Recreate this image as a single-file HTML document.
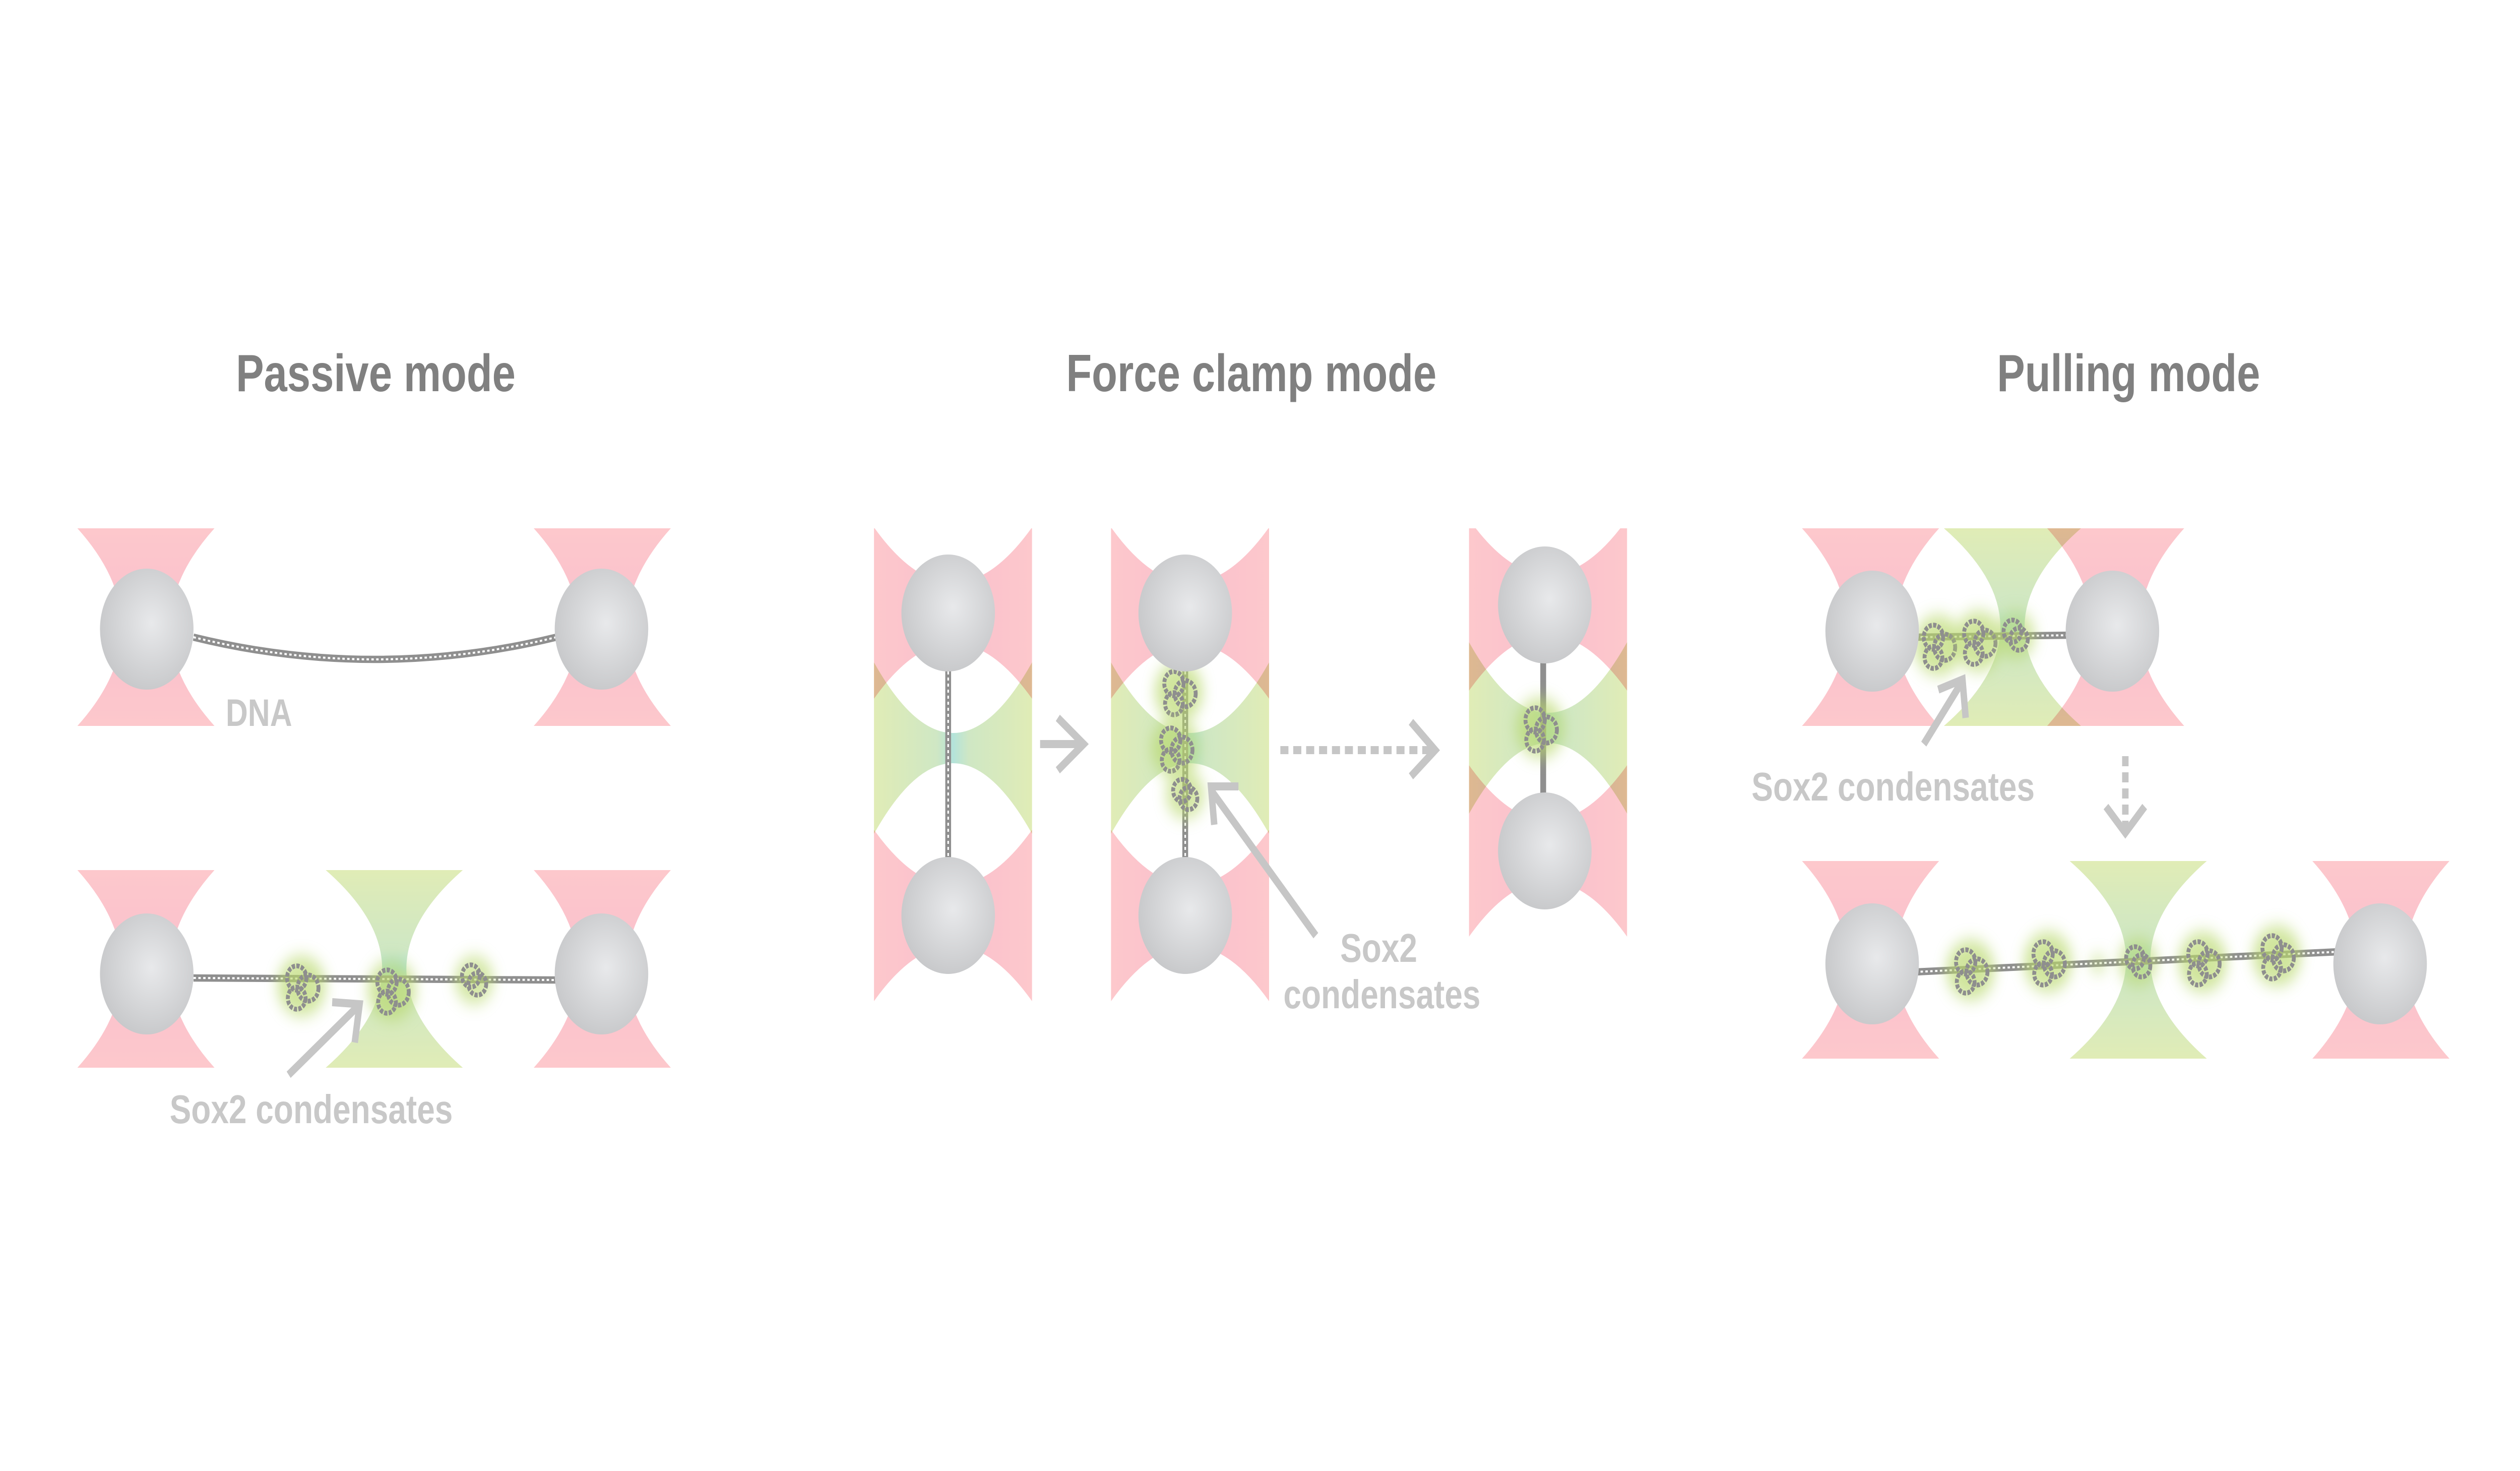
<!DOCTYPE html>
<html><head><meta charset="utf-8"><style>
html,body{margin:0;padding:0;background:#fff;width:100vw;height:100vh;overflow:hidden;}
svg{display:block;width:100vw;height:100vh;overflow:hidden}
text{font-family:"Liberation Sans",Arial,sans-serif;font-weight:bold}
</style></head><body>
<svg viewBox="0 0 1562.75 729.5" preserveAspectRatio="none" xmlns="http://www.w3.org/2000/svg">
<defs>
<linearGradient id="pk" x1="0" y1="0" x2="0" y2="1">
<stop offset="0" stop-color="#fdc8cc"/><stop offset="0.5" stop-color="#f9bfcd"/><stop offset="1" stop-color="#fdc8cc"/></linearGradient>
<linearGradient id="gr" x1="0" y1="0" x2="0" y2="1">
<stop offset="0" stop-color="#e0ecb6"/><stop offset="0.4" stop-color="#cfe7c4"/><stop offset="0.5" stop-color="#b4e3da"/><stop offset="0.6" stop-color="#cfe7c4"/><stop offset="1" stop-color="#e0ecb6"/></linearGradient>
<radialGradient id="bd" cx="0.55" cy="0.45" r="0.6">
<stop offset="0" stop-color="#e8e9eb"/><stop offset="1" stop-color="#c6c7c9"/></radialGradient>
<filter id="bl" x="-1" y="-1" width="3" height="3"><feGaussianBlur stdDeviation="4"/></filter>
<path id="pH" d="M-42.5,-49 L42.5,-49 Q-12.5,0 42.5,49 L-42.5,49 Q12.5,0 -42.5,-49Z" fill="url(#pk)"/>
<path id="gH" d="M-42.5,-49 L42.5,-49 Q-27.5,0 42.5,49 L-42.5,49 Q27.5,0 -42.5,-49Z" fill="url(#gr)"/>
<g id="cond">
<circle r="15" fill="#b8d86a" opacity="0.65" filter="url(#bl)"/>
<g fill="none" stroke="#8e8e8e" stroke-width="2.4" stroke-dasharray="2 0.8">
<circle cx="-3" cy="-4" r="6"/><circle cx="4" cy="1" r="6.5"/><circle cx="-3" cy="6" r="5.5"/>
</g></g>
<g id="condS">
<circle r="12" fill="#b8d86a" opacity="0.6" filter="url(#bl)"/>
<g fill="none" stroke="#8e8e8e" stroke-width="2.4" stroke-dasharray="2 0.8">
<circle cx="-2" cy="-2" r="5.5"/><circle cx="2" cy="2" r="5.5"/>
</g></g>
<clipPath id="c1"><rect x="541" y="262" width="100" height="235"/></clipPath>
<clipPath id="c2"><rect x="688" y="262" width="100" height="235"/></clipPath>
<clipPath id="c3"><rect x="910" y="262" width="100" height="203"/></clipPath>
</defs>

<g fill="#808080" font-size="26" text-anchor="middle">
<text x="233" y="194">Passive mode</text>
<text x="776" y="194">Force clamp mode</text>
<text x="1320" y="194">Pulling mode</text>
</g>

<!-- PASSIVE -->
<use href="#pH" transform="translate(90.5,311)"/>
<use href="#pH" transform="translate(373.5,311)"/>
<path d="M120,316 Q232,338 345,316" fill="none" stroke="#8f8f8f" stroke-width="3.6"/>
<path d="M120,316 Q232,338 345,316" fill="none" stroke="#fff" stroke-width="1" stroke-dasharray="1.5 1.5"/>
<ellipse cx="91" cy="312" rx="29" ry="30" fill="url(#bd)"/>
<ellipse cx="373" cy="312" rx="29" ry="30" fill="url(#bd)"/>
<text x="140" y="360" font-size="19" fill="#c8c8c8">DNA</text>

<use href="#pH" transform="translate(90.5,480.5)"/>
<use href="#gH" transform="translate(244.5,480.5)"/>
<use href="#pH" transform="translate(373.5,480.5)"/>
<line x1="120" y1="485" x2="345" y2="486" stroke="#8f8f8f" stroke-width="3.6"/>
<line x1="120" y1="485" x2="345" y2="486" stroke="#fff" stroke-width="1" stroke-dasharray="1.5 1.5"/>
<use href="#cond" transform="translate(187,489)"/>
<use href="#cond" transform="translate(243,491)"/>
<use href="#condS" transform="translate(294,486)"/>
<ellipse cx="91" cy="483" rx="29" ry="30" fill="url(#bd)"/>
<ellipse cx="373" cy="483" rx="29" ry="30" fill="url(#bd)"/>
<g stroke="#c6c6c6" stroke-width="4" fill="none"><line x1="179" y1="533" x2="222" y2="499"/><polyline points="206,497 223,498 220,517"/></g>
<text x="193" y="557" font-size="20" fill="#c8c8c8" text-anchor="middle">Sox2 condensates</text>

<!-- FORCE CLAMP panel 1 -->
<g clip-path="url(#c1)" style="isolation:isolate">
<g style="mix-blend-mode:multiply"><use href="#pH" transform="translate(591,304) rotate(90)"/></g>
<g style="mix-blend-mode:multiply"><use href="#gH" transform="translate(591,371) rotate(90)"/></g>
<g style="mix-blend-mode:multiply"><use href="#pH" transform="translate(591,454) rotate(90)"/></g>
</g>
<line x1="588" y1="330" x2="588" y2="430" stroke="#8f8f8f" stroke-width="3.6"/>
<line x1="588" y1="330" x2="588" y2="430" stroke="#fff" stroke-width="1" stroke-dasharray="1.5 1.5"/>
<ellipse cx="588" cy="304" rx="29" ry="29" fill="url(#bd)"/>
<ellipse cx="588" cy="454" rx="29" ry="29" fill="url(#bd)"/>
<g stroke="#c6c6c6" stroke-width="4" fill="none"><line x1="645" y1="369" x2="671" y2="369"/><polyline points="656,356 672,369 656,382"/></g>

<!-- panel 2 -->
<g clip-path="url(#c2)" style="isolation:isolate">
<g style="mix-blend-mode:multiply"><use href="#pH" transform="translate(738,304) rotate(90)"/></g>
<g style="mix-blend-mode:multiply"><use href="#gH" transform="translate(738,371) rotate(90)"/></g>
<g style="mix-blend-mode:multiply"><use href="#pH" transform="translate(738,454) rotate(90)"/></g>
</g>
<line x1="735" y1="330" x2="735" y2="430" stroke="#8f8f8f" stroke-width="3.6"/>
<line x1="735" y1="330" x2="735" y2="430" stroke="#fff" stroke-width="1" stroke-dasharray="1.5 1.5"/>
<use href="#cond" transform="translate(731,343)"/>
<use href="#cond" transform="translate(729,371)"/>
<use href="#condS" transform="translate(735,394)"/>
<ellipse cx="735" cy="304" rx="29" ry="29" fill="url(#bd)"/>
<ellipse cx="735" cy="454" rx="29" ry="29" fill="url(#bd)"/>
<g stroke="#c6c6c6" stroke-width="4" fill="none"><line x1="816" y1="464" x2="752" y2="393"/><polyline points="768,390 751,390 753,409"/></g>
<text x="855" y="477" font-size="20" fill="#c8c8c8" text-anchor="middle">Sox2</text>
<text x="857" y="500" font-size="20" fill="#c8c8c8" text-anchor="middle">condensates</text>
<g stroke="#c6c6c6" stroke-width="4" fill="none"><line x1="794" y1="372" x2="888" y2="372" stroke-dasharray="5 3"/><polyline points="875,358 890,372 875,385"/></g>

<!-- panel 3 -->
<g clip-path="url(#c3)" style="isolation:isolate">
<g style="mix-blend-mode:multiply"><use href="#pH" transform="translate(960,300) rotate(90)"/></g>
<g style="mix-blend-mode:multiply"><use href="#gH" transform="translate(960,361) rotate(90)"/></g>
<g style="mix-blend-mode:multiply"><use href="#pH" transform="translate(960,422) rotate(90)"/></g>
</g>
<line x1="957" y1="325" x2="957" y2="400" stroke="#8f8f8f" stroke-width="3.6"/>
<use href="#cond" transform="translate(955,361)"/>
<ellipse cx="958" cy="300" rx="29" ry="29" fill="url(#bd)"/>
<ellipse cx="958" cy="422" rx="29" ry="29" fill="url(#bd)"/>

<!-- PULLING top -->
<g style="isolation:isolate">
<g style="mix-blend-mode:multiply"><use href="#pH" transform="translate(1160,311)"/></g>
<g style="mix-blend-mode:multiply"><use href="#gH" transform="translate(1248,311)"/></g>
<g style="mix-blend-mode:multiply"><use href="#pH" transform="translate(1312,311)"/></g>
</g>
<line x1="1188" y1="316" x2="1284" y2="315" stroke="#8f8f8f" stroke-width="3.6"/>
<line x1="1188" y1="316" x2="1284" y2="315" stroke="#fff" stroke-width="1" stroke-dasharray="1.5 1.5"/>
<use href="#cond" transform="translate(1202,320)"/>
<use href="#cond" transform="translate(1227,318)"/>
<use href="#condS" transform="translate(1250,315)"/>
<ellipse cx="1161" cy="313" rx="29" ry="30" fill="url(#bd)"/>
<ellipse cx="1310" cy="313" rx="29" ry="30" fill="url(#bd)"/>
<g stroke="#c6c6c6" stroke-width="4" fill="none"><line x1="1193" y1="369" x2="1216" y2="339"/><polyline points="1202,342 1217,337 1219,356"/></g>
<text x="1174" y="397" font-size="20" fill="#c8c8c8" text-anchor="middle">Sox2 condensates</text>
<g stroke="#c6c6c6" stroke-width="4" fill="none"><line x1="1318" y1="375" x2="1318" y2="411" stroke-dasharray="5 3"/><polyline points="1306,400 1318,413 1330,400"/></g>

<!-- PULLING bottom -->
<use href="#pH" transform="translate(1160,476)"/>
<use href="#gH" transform="translate(1326,476)"/>
<use href="#pH" transform="translate(1476.5,476)"/>
<line x1="1188" y1="482" x2="1450" y2="472" stroke="#8f8f8f" stroke-width="3.6"/>
<line x1="1188" y1="482" x2="1450" y2="472" stroke="#fff" stroke-width="1" stroke-dasharray="1.5 1.5"/>
<use href="#cond" transform="translate(1222,481)"/>
<use href="#cond" transform="translate(1270,477)"/>
<circle cx="1301" cy="478" r="5" fill="#b8d86a" opacity="0.5" filter="url(#bl)"/>
<use href="#condS" transform="translate(1326,477)"/>
<use href="#cond" transform="translate(1366,477)"/>
<use href="#cond" transform="translate(1412,474)"/>
<ellipse cx="1161" cy="478" rx="29" ry="30" fill="url(#bd)"/>
<ellipse cx="1476" cy="478" rx="29" ry="30" fill="url(#bd)"/>
</svg>
</body></html>
